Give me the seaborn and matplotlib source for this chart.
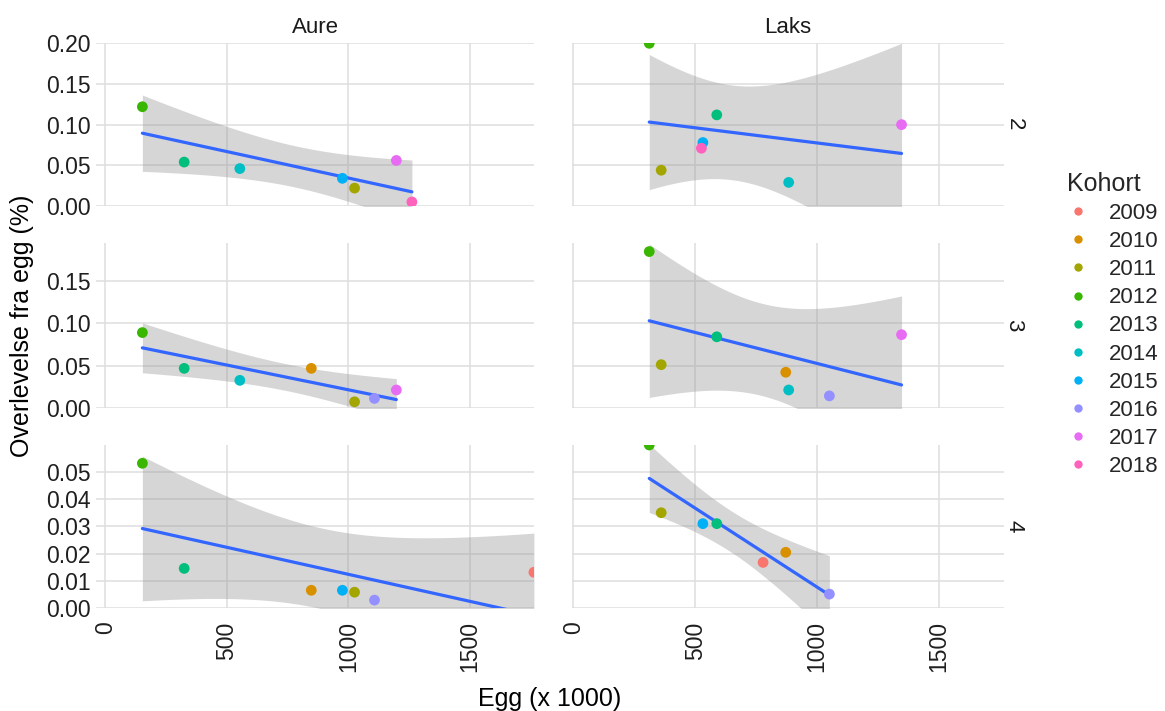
import numpy as np
import pandas as pd
import matplotlib
matplotlib.use("Agg")
import matplotlib.pyplot as plt
from matplotlib.lines import Line2D
import seaborn as sns

# ---- data -------------------------------------------------------------
cohorts = ["2009", "2010", "2011", "2012", "2013",
           "2014", "2015", "2016", "2017", "2018"]
cohort_colors = ["#F8766D", "#D89000", "#A3A500", "#39B600", "#00BF7D",
                 "#00BFC4", "#00B0F6", "#9590FF", "#E76BF3", "#FF62BC"]
species = ["Aure", "Laks"]
ages = ["2", "3", "4"]

# egg deposition (x 1000) per cohort
egg_aure = [1763, 847, 1025, 152, 324, 553, 975, 1107, 1197, 1261]
egg_laks = [778, 871, 360, 311, 588, 883, 531, 1050, 1346, 525]

nan = np.nan
# survival from egg (%) per cohort, by age
surv_aure_2 = [nan, nan, 0.022, 0.122, 0.054, 0.046, 0.034, nan, 0.056, 0.005]
surv_aure_3 = [nan, 0.0466, 0.007, 0.089, 0.0466, 0.0324, nan, 0.011, 0.021, nan]
surv_aure_4 = [0.0132, 0.0066, 0.0059, 0.0531, 0.0146, nan, 0.0066, 0.0030, nan, nan]
surv_laks_2 = [nan, nan, 0.044, 0.200, 0.112, 0.029, 0.078, nan, 0.100, 0.071]
surv_laks_3 = [nan, 0.042, 0.051, 0.185, 0.084, 0.021, nan, 0.014, 0.0865, nan]
surv_laks_4 = [0.0168, 0.0205, 0.035, 0.0598, 0.031, nan, 0.031, 0.0052, nan, nan]

y_ticks = {
    "2": [0.00, 0.05, 0.10, 0.15, 0.20],
    "3": [0.00, 0.05, 0.10, 0.15],
    "4": [0.00, 0.01, 0.02, 0.03, 0.04, 0.05],
}
x_ticks = [0, 500, 1000, 1500]

# ---- long table -------------------------------------------------------
eggs = {"Aure": egg_aure, "Laks": egg_laks}
surv = {
    ("Aure", "2"): surv_aure_2, ("Aure", "3"): surv_aure_3, ("Aure", "4"): surv_aure_4,
    ("Laks", "2"): surv_laks_2, ("Laks", "3"): surv_laks_3, ("Laks", "4"): surv_laks_4,
}
rows = []
for (sp, age), vals in surv.items():
    for c, e, v in zip(cohorts, eggs[sp], vals):
        if not np.isnan(v):
            rows.append({"Art": sp, "Alder": age, "Kohort": c, "Egg": e, "Overlevelse": v})
df = pd.DataFrame(rows)

# ---- style ------------------------------------------------------------
sns.set_theme(style="white")
plt.rcParams["font.family"] = ["Liberation Sans", "DejaVu Sans"]

W, H = 1165, 711
fig = plt.figure(figsize=(W / 100, H / 100), dpi=100)
fig.patch.set_facecolor("white")

col_px = {"Aure": (96.2, 533.9), "Laks": (571.5, 1003.9)}
row_px = {"2": (43.3, 206.0), "3": (242.7, 407.7), "4": (445.0, 608.3)}
xlims = {"Aure": (-38, 1763), "Laks": (-8, 1766)}
ylims = {"2": (0, 0.200), "3": (0, 0.1955), "4": (0, 0.0598)}

T975 = {1: 12.706, 2: 4.303, 3: 3.182, 4: 2.776, 5: 2.571,
        6: 2.447, 7: 2.365, 8: 2.306, 9: 2.262, 10: 2.228}

pal = dict(zip(cohorts, cohort_colors))
tick_fs = 16.5
text_col = "#1F1F1F"

for sp in species:
    for age in ages:
        x0, x1 = col_px[sp]
        y0, y1 = row_px[age]
        ax = fig.add_axes([x0 / W, 1 - y1 / H, (x1 - x0) / W, (y1 - y0) / H])
        sub = df[(df.Art == sp) & (df.Alder == age)]
        x = sub.Egg.to_numpy(float)
        y = sub.Overlevelse.to_numpy(float)

        # linear fit with 95 % confidence band
        n = len(x)
        b1, b0 = np.polyfit(x, y, 1)
        resid = y - (b0 + b1 * x)
        s = np.sqrt(np.sum(resid ** 2) / (n - 2))
        sxx = np.sum((x - x.mean()) ** 2)
        xs = np.linspace(x.min(), x.max(), 120)
        fit = b0 + b1 * xs
        se = s * np.sqrt(1 / n + (xs - x.mean()) ** 2 / sxx)
        half = T975[n - 2] * se
        ax.fill_between(xs, fit - half, fit + half, color="#999999", alpha=0.4,
                        linewidth=0, zorder=2)
        sns.lineplot(x=xs, y=fit, ax=ax, color="#3366FF", linewidth=2.3, zorder=3)
        sns.scatterplot(data=sub, x="Egg", y="Overlevelse", hue="Kohort",
                        hue_order=cohorts, palette=pal, s=60, linewidth=0,
                        legend=False, ax=ax, zorder=4)

        ax.set_xlim(*xlims[sp])
        ax.set_ylim(*ylims[age])
        ax.set_xticks(x_ticks)
        ax.set_yticks(y_ticks[age])
        ax.set_yticklabels([f"{v:.2f}" for v in y_ticks[age]])
        ax.set_xticklabels([str(v) for v in x_ticks], rotation=90)
        ax.grid(True, color="#DEDEDE", linewidth=1.1)
        ax.set_axisbelow(True)
        for spine in ax.spines.values():
            spine.set_visible(False)
        ax.tick_params(length=0, labelsize=tick_fs, colors=text_col)
        ax.tick_params(axis="y", pad=4)
        ax.tick_params(axis="x", pad=9.5)
        ax.set_xlabel("")
        ax.set_ylabel("")
        if sp != "Aure":
            ax.tick_params(axis="y", labelleft=False)
        if age != "4":
            ax.tick_params(axis="x", labelbottom=False)

# facet strips
for sp in species:
    x0, x1 = col_px[sp]
    fig.text((x0 + x1) / 2 / W, 1 - 32.7 / H, sp, ha="center", va="baseline",
             fontsize=16, color="#1A1A1A")
for age in ages:
    y0, y1 = row_px[age]
    fig.text(1014 / W, 1 - (y0 + y1) / 2 / H, age, ha="center", va="center",
             rotation=-90, fontsize=16, color="#1A1A1A")

# axis titles
fig.text(550 / W, 1 - 706 / H, "Egg (x 1000)", ha="center", va="baseline",
         fontsize=18, color="black")
fig.text(22 / W, 1 - 325.8 / H, "Overlevelse fra egg (%)", ha="center", va="center",
         rotation=90, fontsize=18, color="black")

# legend
handles = [Line2D([], [], linestyle="none", marker="o", markersize=6,
                  markerfacecolor=c, markeredgewidth=0) for c in cohort_colors]
leg = fig.legend(handles, cohorts, title="Kohort", loc="upper left",
                 bbox_to_anchor=(1058 / W, 1 - 163 / H), frameon=False,
                 fontsize=16, title_fontsize=18, handlelength=1.0,
                 handletextpad=0.9, labelspacing=0.32, borderaxespad=0)
leg._legend_box.align = "left"

fig.savefig("out.png", dpi=100, facecolor="white")
